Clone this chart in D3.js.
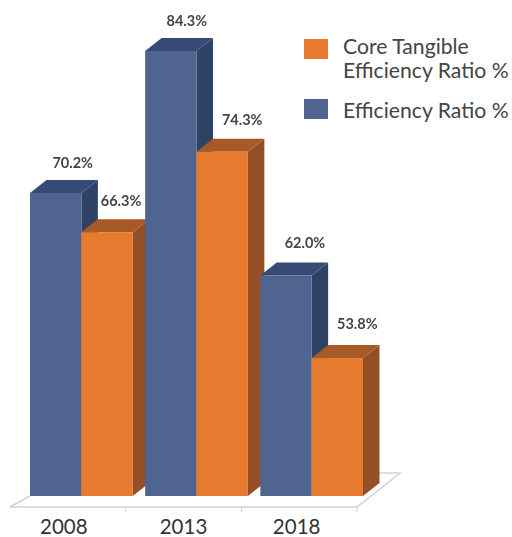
<!DOCTYPE html>
<html><head><meta charset="utf-8">
<script src="https://cdn.jsdelivr.net/npm/d3@7"></script>
<style>html,body{margin:0;padding:0;background:#fff}svg{display:block}</style>
</head><body><svg id="c" width="512" height="537"></svg>
<script>
const years = ["2008","2013","2018"];
const efficiency = [70.2,84.3,62.0];
const coreTangible = [66.3,74.3,53.8];
const seriesNames = ["Efficiency Ratio %","Core Tangible Efficiency Ratio %"];
const seriesValues = [efficiency,coreTangible];
const faceColors = ["#50658f","#e67a2e"];
const topColors = ["#344b74","#a75a26"];
const sideColors = ["#2e4266","#944f25"];

const svg = d3.select("#c");
const dx = 16.5, dy = -13;
const x = d3.scaleBand().domain(years).range([30,363]).paddingInner(0.108);
const xs = d3.scaleBand().domain([0,1]).range([0,x.bandwidth()]);
const y = d3.scaleLinear().domain([40,84.3]).range([497,51]);
const base = 496;

const defs = svg.append("defs");
defs.append("filter").attr("id","soft").append("feGaussianBlur").attr("stdDeviation",0.45);
const chart = svg.append("g").attr("filter","url(#soft)");

// floor
const floorL = 10, floorR = 357, floorY = 507, backY = 473;
chart.append("path")
  .attr("d",`M${floorL},${floorY}L${floorR},${floorY}L${floorR+43},${backY}L${floorR+22},${backY}M${floorL},${floorY}L${floorL+20},${floorY-11}`)
  .attr("fill","none").attr("stroke","#d2d2d2").attr("stroke-width",1.5);
const step = (floorR-floorL)/3;
chart.selectAll("line.tick").data(d3.range(1,4)).join("line").attr("class","tick")
  .attr("x1",d=>floorL+d*step).attr("x2",d=>floorL+d*step)
  .attr("y1",floorY).attr("y2",floorY+5).attr("stroke","#d2d2d2").attr("stroke-width",1);

// bars
years.forEach((yr,i)=>{
  seriesValues.forEach((vals,s)=>{
    const x0 = x(yr)+xs(s), w = xs.bandwidth(), t = y(vals[i]);
    const g = chart.append("g");
    g.append("path").attr("d",`M${x0+w},${t}L${x0+w+dx},${t+dy}L${x0+w+dx},${base+dy}L${x0+w},${base}Z`).attr("fill",sideColors[s]);
    g.append("path").attr("d",`M${x0},${t}L${x0+dx},${t+dy}L${x0+w+dx},${t+dy}L${x0+w},${t}Z`).attr("fill",topColors[s]);
    g.append("rect").attr("x",x0).attr("y",t).attr("width",w).attr("height",base-t).attr("fill",faceColors[s]);
  });
});

// value labels (nudges per series, per year)
const labelFont = "Lato, sans-serif";
const nudgeX = [[17,16,19],[14,20,20]];
const nudgeY = [[25,25,28],[26,27,29]];
years.forEach((yr,i)=>{
  seriesValues.forEach((vals,s)=>{
    const x0 = x(yr)+xs(s), w = xs.bandwidth();
    chart.append("text")
      .attr("x",x0+w/2+nudgeX[s][i])
      .attr("y",y(vals[i])-nudgeY[s][i])
      .attr("text-anchor","middle").attr("font-family",labelFont)
      .attr("font-size",14.5).attr("font-weight",700).attr("fill","#444")
      .text(vals[i].toFixed(1)+"%");
  });
});

// year labels
const yearNudge = [-17.5,-13,-15];
svg.selectAll("text.yr").data(years).join("text").attr("class","yr")
  .attr("x",(d,i)=>x(d)+x.bandwidth()/2+yearNudge[i]).attr("y",534)
  .attr("text-anchor","middle").attr("font-family",labelFont).attr("font-size",20.5).attr("fill","#333")
  .text(d=>d);

// legend
const leg = svg.append("g");
leg.append("rect").attr("x",304).attr("y",39).attr("width",24).attr("height",20).attr("fill",faceColors[1]);
leg.append("rect").attr("x",304).attr("y",99).attr("width",24).attr("height",20).attr("fill",faceColors[0]);
const legendLines = [["Core Tangible",54],["Efficiency Ratio %",78],["Efficiency Ratio %",118]];
leg.selectAll("text").data(legendLines).join("text")
  .attr("x",343).attr("y",d=>d[1]).attr("font-family",labelFont).attr("font-size",21.2).attr("fill","#444")
  .text(d=>d[0]);
</script></body></html>
